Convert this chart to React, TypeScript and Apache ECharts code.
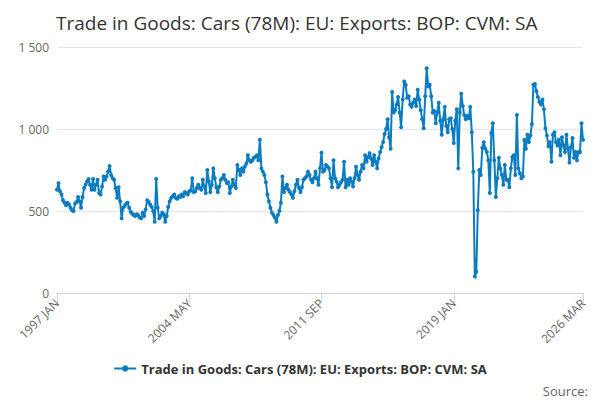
import React, { useEffect, useRef } from 'react';
import * as echarts from 'echarts';

const startYear = 1997;
const monthNames = ['JAN', 'FEB', 'MAR', 'APR', 'MAY', 'JUN', 'JUL', 'AUG', 'SEP', 'OCT', 'NOV', 'DEC'];
const seriesName = 'Trade in Goods: Cars (78M): EU: Exports: BOP: CVM: SA';
const labelIndexes = [0, 88, 176, 264, 350];
const yTicks = [0, 500, 1000, 1500];

// monthly values, 1997 JAN .. 2026 MAR
const values: number[] = [
  630, 670, 620, 600, 565, 550, 535, 550, 540, 520, 505, 500,
  545, 555, 585, 560, 520, 585, 640, 660, 680, 695, 660, 630,
  695, 630, 660, 690, 610, 600, 650, 710, 690, 710, 740, 775,
  720, 700, 690, 640, 580, 645, 560, 455, 520, 530, 545, 550,
  520, 495, 485, 475, 470, 480, 475, 460, 455, 490, 470, 510,
  565, 555, 540, 525, 500, 435, 695, 520, 455, 470, 490, 480,
  435, 470, 525, 560, 580, 590, 600, 580, 575, 590, 585, 600,
  590, 615, 610, 600, 620, 625, 700, 615, 620, 640, 660, 640,
  630, 690, 650, 610, 750, 680, 615, 660, 760, 700, 645, 615,
  650, 690, 700, 720, 690, 670, 675, 610, 650, 690, 660, 640,
  780, 750, 720, 760, 740, 770, 790, 840, 810, 800, 810, 825,
  830, 840, 810, 935, 760, 740, 720, 675, 600, 560, 520, 490,
  475, 460, 435, 475, 500, 550, 710, 615, 640, 660, 630, 615,
  600, 580, 620, 660, 690, 640, 615, 645, 690, 700, 710, 740,
  720, 690, 675, 700, 740, 700, 660, 760, 855, 740, 750, 780,
  770, 760, 700, 645, 810, 700, 680, 645, 660, 675, 690, 800,
  645, 690, 660, 700, 680, 650, 700, 770, 720, 690, 740, 780,
  760, 840, 800, 830, 853, 820, 780, 840, 800, 760, 820, 860,
  890, 920, 970, 1000, 1060, 950, 880, 1225, 1100, 1115, 1150, 1195,
  1100, 1010, 1180, 1290, 1270, 1190, 1200, 1150, 1135, 1160, 1180, 1140,
  1240, 1180, 1115, 1060, 1005, 1200, 1370, 1260, 1270, 1200, 1100, 1110,
  1035, 1100, 1160, 1050, 965, 1060, 1135, 1020, 980, 1060, 1065, 1000,
  915, 1050, 1120, 760, 1100, 1215, 1140, 1085, 1060, 1080, 1065, 1135,
  980, 740, 100, 130, 505, 750, 720, 885, 920, 880, 860, 810,
  610, 975, 1035, 810, 585, 700, 825, 760, 720, 660, 780, 690,
  690, 645, 760, 830, 840, 720, 1085, 760, 730, 700, 710, 935,
  880, 965, 920, 960, 1030, 1270, 1275, 1230, 1195, 1165, 1150, 1180,
  1120, 1005, 960, 895, 920, 800, 965, 980, 920, 900, 935, 840,
  950, 900, 860, 965, 880, 795, 890, 945, 825, 860, 810, 860,
  860, 1035, 935,
];

const categories = values.map((_, i) =>
  `${startYear + Math.floor(i / 12)} ${monthNames[i % 12]}`);

const App: React.FC = () => {
  const chartRef = useRef<HTMLDivElement | null>(null);

  useEffect(() => {
    if (!chartRef.current) return;
    const myChart = echarts.init(chartRef.current, null, { renderer: 'svg' });
    const font = 'Open Sans, sans-serif';
    myChart.setOption({
      animation: false,
      textStyle: { fontFamily: font },
      title: {
        text: 'Trade in Goods: Cars (78M): EU: Exports: BOP: CVM: SA',
        left: 43,
        top: 0,
        textStyle: { fontSize: 19, fontWeight: 'normal', color: '#333', fontFamily: font },
      },
      graphic: [{
        type: 'text', right: 4, bottom: 3,
        style: { text: 'Source:', fontSize: 13, fill: '#666', fontFamily: font },
      }],
      legend: {
        bottom: 20,
        left: 'center',
        itemWidth: 22,
        itemHeight: 8,
        textStyle: { fontSize: 13, fontWeight: 'bold', color: '#333', fontFamily: font },
        data: [seriesName],
      },
      grid: { left: 49, right: 9, top: 39, bottom: 107 },
      xAxis: {
        type: 'category',
        data: categories,
        boundaryGap: false,
        axisLine: { lineStyle: { color: '#ccd6eb' } },
        axisTick: {
          show: true,
          interval: (i: number) => labelIndexes.includes(i),
          length: 10,
          lineStyle: { color: '#ccd6eb' },
        },
        axisLabel: {
          interval: (i: number) => labelIndexes.includes(i),
          rotate: 45,
          color: '#666',
          fontSize: 12,
          margin: 8,
        },
      },
      yAxis: {
        type: 'value',
        min: yTicks[0],
        max: yTicks[yTicks.length - 1],
        interval: 500,
        axisLine: { show: false },
        axisTick: { show: false },
        splitLine: { lineStyle: { color: '#e6e6e6' } },
        axisLabel: {
          color: '#666',
          fontSize: 12,
          formatter: (v: number) => v >= 1000 ? `${Math.floor(v / 1000)} ${String(v % 1000).padStart(3, '0')}` : String(v),
        },
      },
      series: [{
        name: seriesName,
        type: 'line',
        data: values,
        symbol: 'circle',
        symbolSize: 4,
        showAllSymbol: true,
        color: '#0c7cc1',
        lineStyle: { width: 2 },
      }],
    });
    return () => myChart.dispose();
  }, []);

  return <div ref={chartRef} style={{ width: 584, height: 392 }} />;
};

export default App;
